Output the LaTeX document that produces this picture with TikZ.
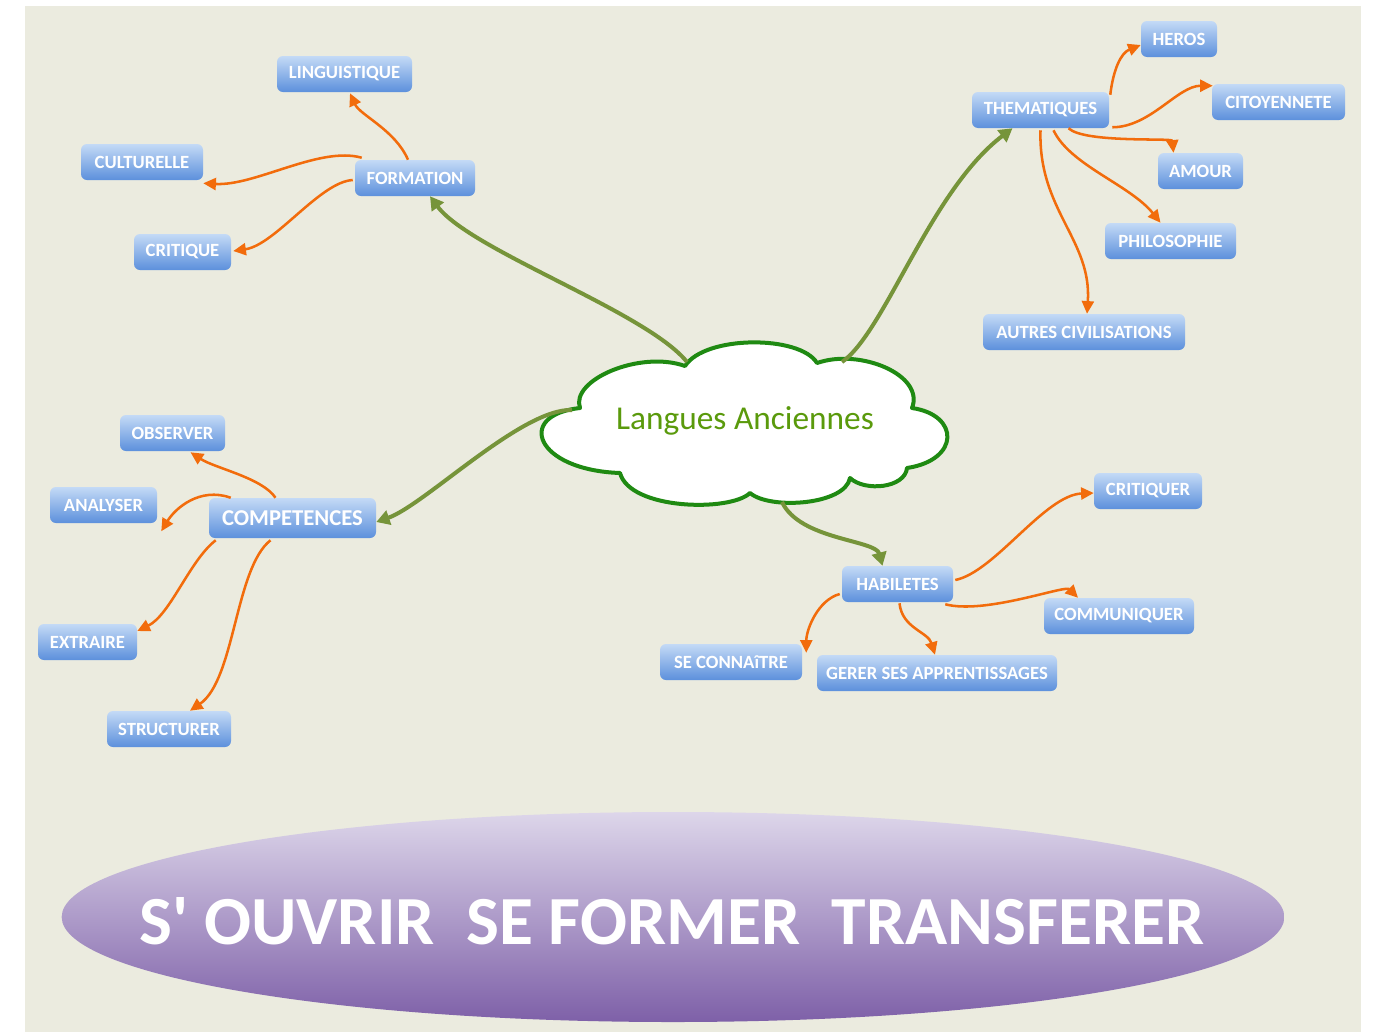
\documentclass[tikz,border=0pt]{standalone}
\usepackage{fontspec}
\setmainfont{Carlito}
\usetikzlibrary{shapes.geometric,arrows.meta,calc}
\definecolor{bg}{HTML}{EBEBDF}
\definecolor{boxtop}{HTML}{C4DAF6}
\definecolor{boxbot}{HTML}{5C90DC}
\definecolor{orng}{HTML}{F26C0C}
\definecolor{grn}{HTML}{76943A}
\definecolor{cloudline}{HTML}{1F8A12}
\definecolor{cloudtext}{HTML}{5A9A0C}
\definecolor{elltop}{HTML}{DDD6EA}
\definecolor{ellbot}{HTML}{7E60A8}
\begin{document}
\begin{tikzpicture}[x=0.75pt,y=-0.75pt,
 box/.style={rounded corners=4.5pt, top color=boxtop, bottom color=boxbot, text=white,
   font=\fontsize{14}{16}\selectfont\bfseries, minimum height=27pt, inner sep=0pt},
 bw/.style={minimum width=#1*0.75pt},
 oarr/.style={draw=orng, line width=1.9pt, -{Triangle[length=9.5pt,width=9pt]}},
 garr/.style={draw=grn, line width=3pt, -{Triangle[length=10pt,width=11pt]}},
 cloudline/.style={draw=cloudline, line width=3pt, fill=white, line join=round},
]
\useasboundingbox (0,0) rectangle (1373,1032);
\fill[white] (0,0) rectangle (1373,1032);
\fill[bg] (25,6) rectangle (1361,1032);

% bottom ellipse
\node[ellipse, top color=elltop, bottom color=ellbot, minimum width=917pt, minimum height=157.5pt, inner sep=0pt] (ell) at (673,917) {};
\node[text=white, inner sep=0pt] (motto) at (672,921.5) {\resizebox{798.75pt}{35.25pt}{\bfseries S\textquotesingle{} OUVRIR\ \ SE FORMER\ \ TRANSFERER}};

% central cloud
\coordinate (cloud) at (744,421);
\draw[cloudline] (580,408) .. controls (570,380) and (640,350) .. (685,366)
  .. controls (705,335) and (800,335) .. (817,363)
  .. controls (860,348) and (925,375) .. (912,408)
  .. controls (960,415) and (960,460) .. (907,468)
  .. controls (905,488) and (865,492) .. (850,478)
  .. controls (845,505) and (770,510) .. (750,493)
  .. controls (730,512) and (630,510) .. (620,473)
  .. controls (535,470) and (515,415) .. cycle;
\node[text=cloudtext, font=\fontsize{25}{30}\selectfont, inner sep=0pt] (title) at (745,421) {Langues Anciennes};

% boxes
\node[box,bw=135] (ling) at (344.5,74) {LINGUISTIQUE};
\node[box,bw=122] (cult) at (142,162) {CULTURELLE};
\node[box,bw=120] (form) at (415,178) {FORMATION};
\node[box,bw=97] (crit) at (182.5,252) {CRITIQUE};
\node[box,bw=137] (them) at (1040.5,110) {THEMATIQUES};
\node[box,bw=76] (heros) at (1179,39) {HEROS};
\node[box,bw=133] (cito) at (1278.5,102) {CITOYENNETE};
\node[box,bw=85] (amour) at (1200.5,171) {AMOUR};
\node[box,bw=131] (philo) at (1170.5,241) {PHILOSOPHIE};
\node[box,bw=202] (autres) at (1084,332) {AUTRES CIVILISATIONS};
\node[box,bw=105] (obs) at (172.5,433) {OBSERVER};
\node[box,bw=107] (ana) at (103.5,505) {ANALYSER};
\node[box,bw=167,minimum height=30pt,font=\fontsize{17}{20}\selectfont\bfseries] (comp) at (292.5,518) {COMPETENCES};
\node[box,bw=99] (extr) at (87.5,642) {EXTRAIRE};
\node[box,bw=124] (struct) at (169,729) {STRUCTURER};
\node[box,bw=108] (critiquer) at (1148,491) {CRITIQUER};
\node[box,bw=111] (hab) at (897.5,584) {HABILETES};
\node[box,bw=150] (comm) at (1119,616) {COMMUNIQUER};
\node[box,bw=142] (seconn) at (731,662) {SE CONNAîTRE};
\node[box,bw=240] (gerer) at (937,673) {GERER SES APPRENTISSAGES};

% green connectors
\draw[garr] ($(cloud)+(-57,-59)$) .. controls +(-40,-50) and +(40,54) .. ($(form.south)+(15,0)$);
\draw[garr] ($(cloud)+(98,-59)$) .. controls +(43,-30) and +(-82,62) .. ($(them.south)+(-28,0)$);
\draw[garr] ($(cloud)+(-172,-11)$) .. controls +(-50,-2) and +(48.5,-17) .. ($(comp.east)+(0,4)$);
\draw[garr] ($(cloud)+(38,81)$) .. controls +(18,38) and +(-7,-26) .. ($(hab.north)+(-15,0)$);

% orange connectors
\draw[oarr] ($(form.north)+(-7,0)$) .. controls +(-13,-30) and +(10,22) .. ($(ling.south)+(5.5,1)$);
\draw[oarr] ($(form.north west)+(7,-2)$) .. controls +(-42,-12) and +(52,3) .. ($(cult.south east)+(0,3)$);
\draw[oarr] ($(form.west)+(-2,2)$) .. controls +(-33,2) and +(42,-6) .. ($(crit.east)+(2,-1)$);

\draw[oarr] ($(them.north east)+(1,3)$) .. controls +(3,-25) and +(-20,8) .. ($(heros.west)+(0,6)$);
\draw[oarr] ($(them.south east)+(3,-1)$) .. controls +(38,0) and +(-35,0) .. ($(cito.north west)+(1,2)$);
\draw[oarr] ($(them.south)+(28,0)$) .. controls +(16,15) and +(-1.5,-15) .. ($(amour.north)+(-27,0)$);
\draw[oarr] ($(them.south)+(13,2)$) .. controls +(16.5,35) and +(-30.5,-38) .. ($(philo.north)+(-10,0)$);
\draw[oarr] ($(them.south)+(0,2)$) .. controls +(-2.5,80) and +(5,-74) .. ($(autres.north)+(3,0)$);

\draw[oarr] ($(comp.north)+(-17,0)$) .. controls +(-13.5,-20) and +(24.5,16) .. ($(obs.south)+(18,1)$);
\draw[oarr] ($(comp.north west)+(22,0)$) .. controls +(-31,-11) and +(14,-23) .. ($(ana.south east)+(4,8)$);
\draw[oarr] ($(comp.south west)+(7,2)$) .. controls +(-26,20) and +(33,-16) .. ($(extr.east)+(0,-11)$);
\draw[oarr] ($(comp.south)+(-22,2)$) .. controls +(-35.5,28) and +(45,-31) .. ($(struct.north)+(21,0)$);

\draw[oarr] ($(hab.east)+(2,-4)$) .. controls +(39.5,-8) and +(-49,2) .. ($(critiquer.west)+(0,2)$);
\draw[oarr] ($(hab.south east)+(-8,2)$) .. controls +(40,10.5) and +(-13,-13) .. ($(comm.north)+(-41,0)$);
\draw[oarr] ($(hab.west)+(-2,10)$) .. controls +(-22,6) and +(0,-23) .. ($(seconn.north east)+(4,9)$);
\draw[oarr] ($(hab.south)+(2,1)$) .. controls +(2.5,25) and +(-7,-23) .. ($(gerer.north)+(-2,0)$);
\end{tikzpicture}
\end{document}
